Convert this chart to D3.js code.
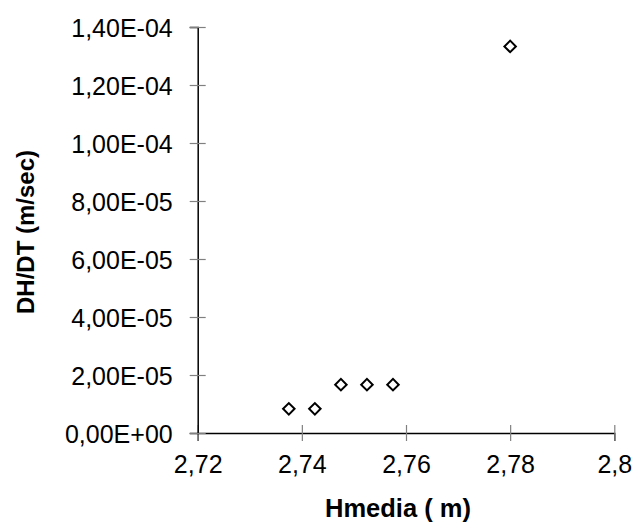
<!DOCTYPE html>
<html>
<head>
<meta charset="utf-8">
<script src="https://cdn.jsdelivr.net/npm/d3@7/dist/d3.min.js"></script>
<style>
  html, body { margin: 0; padding: 0; background: #fff; }
  svg { display: block; font-family: "Liberation Sans", Arial, sans-serif; }
</style>
</head>
<body>
<svg id="chart" width="635" height="527"></svg>
<script>
// Data
const hmedia = [2.7375, 2.7425, 2.7475, 2.7525, 2.7575, 2.78];
const dhdt   = [8.33e-6, 8.33e-6, 1.667e-5, 1.667e-5, 1.667e-5, 1.333e-4];
const xTickValues = [2.72, 2.74, 2.76, 2.78, 2.8];
const xTickLabels = ["2,72", "2,74", "2,76", "2,78", "2,8"];
const yTickValues = [0, 2e-5, 4e-5, 6e-5, 8e-5, 1e-4, 1.2e-4, 1.4e-4];
const yTickLabels = ["0,00E+00", "2,00E-05", "4,00E-05", "6,00E-05", "8,00E-05", "1,00E-04", "1,20E-04", "1,40E-04"];
const xTitle = "Hmedia ( m)";
const yTitle = "DH/DT (m/sec)";

const svg = d3.select("#chart");
const plotLeft = 197.7, plotRight = 614.3, plotTop = 27, plotBottom = 433;

const x = d3.scaleLinear().domain([2.72, 2.8]).range([plotLeft, plotRight]);
const y = d3.scaleLinear().domain([0, 1.4e-4]).range([plotBottom, plotTop]);

const fontSize = 25;

// X axis
const xAxis = d3.axisBottom(x)
  .tickValues(xTickValues)
  .tickFormat((d, i) => xTickLabels[i])
  .tickSizeOuter(0)
  .tickSize(8)
  .tickPadding(14);
const gx = svg.append("g").attr("transform", `translate(0,${plotBottom})`).call(xAxis);
gx.select(".domain").attr("stroke", "#000").attr("stroke-width", 1.3);
gx.selectAll(".tick line").attr("y1", -8).attr("y2", 8).attr("stroke", "#808080").attr("stroke-width", 1.2);
gx.selectAll(".tick text").attr("font-size", fontSize).attr("fill", "#000")
  .attr("font-family", "'Liberation Sans', Arial, sans-serif");

// Y axis
const yAxis = d3.axisLeft(y)
  .tickValues(yTickValues)
  .tickFormat((d, i) => yTickLabels[i])
  .tickSizeOuter(0)
  .tickSize(8)
  .tickPadding(17);
const gy = svg.append("g").attr("transform", `translate(${plotLeft},0)`).call(yAxis);
gy.select(".domain").attr("stroke", "#000").attr("stroke-width", 1.5);
gy.selectAll(".tick line").attr("x1", 8).attr("x2", -8).attr("stroke", "#808080").attr("stroke-width", 1.2);
gy.selectAll(".tick text").attr("font-size", fontSize).attr("fill", "#000")
  .attr("font-family", "'Liberation Sans', Arial, sans-serif")
  .attr("dy", "0.37em");

// Points (diamonds)
const diamond = d3.symbol().type(d3.symbolSquare).size(66);
svg.append("g").selectAll("path")
  .data(hmedia.map((h, i) => [h, dhdt[i]]))
  .join("path")
  .attr("d", diamond)
  .attr("transform", d => `translate(${x(d[0])},${y(d[1])}) rotate(45)`)
  .attr("fill", "#fff")
  .attr("stroke", "#000")
  .attr("stroke-width", 2);

// Titles
svg.append("text")
  .attr("x", 398).attr("y", 517)
  .attr("text-anchor", "middle")
  .attr("font-size", 25.5).attr("font-weight", "bold")
  .text(xTitle);

svg.append("text")
  .attr("transform", "translate(34,232) rotate(-90)")
  .attr("text-anchor", "middle")
  .attr("font-size", 24).attr("font-weight", "bold")
  .text(yTitle);
</script>
</body>
</html>
